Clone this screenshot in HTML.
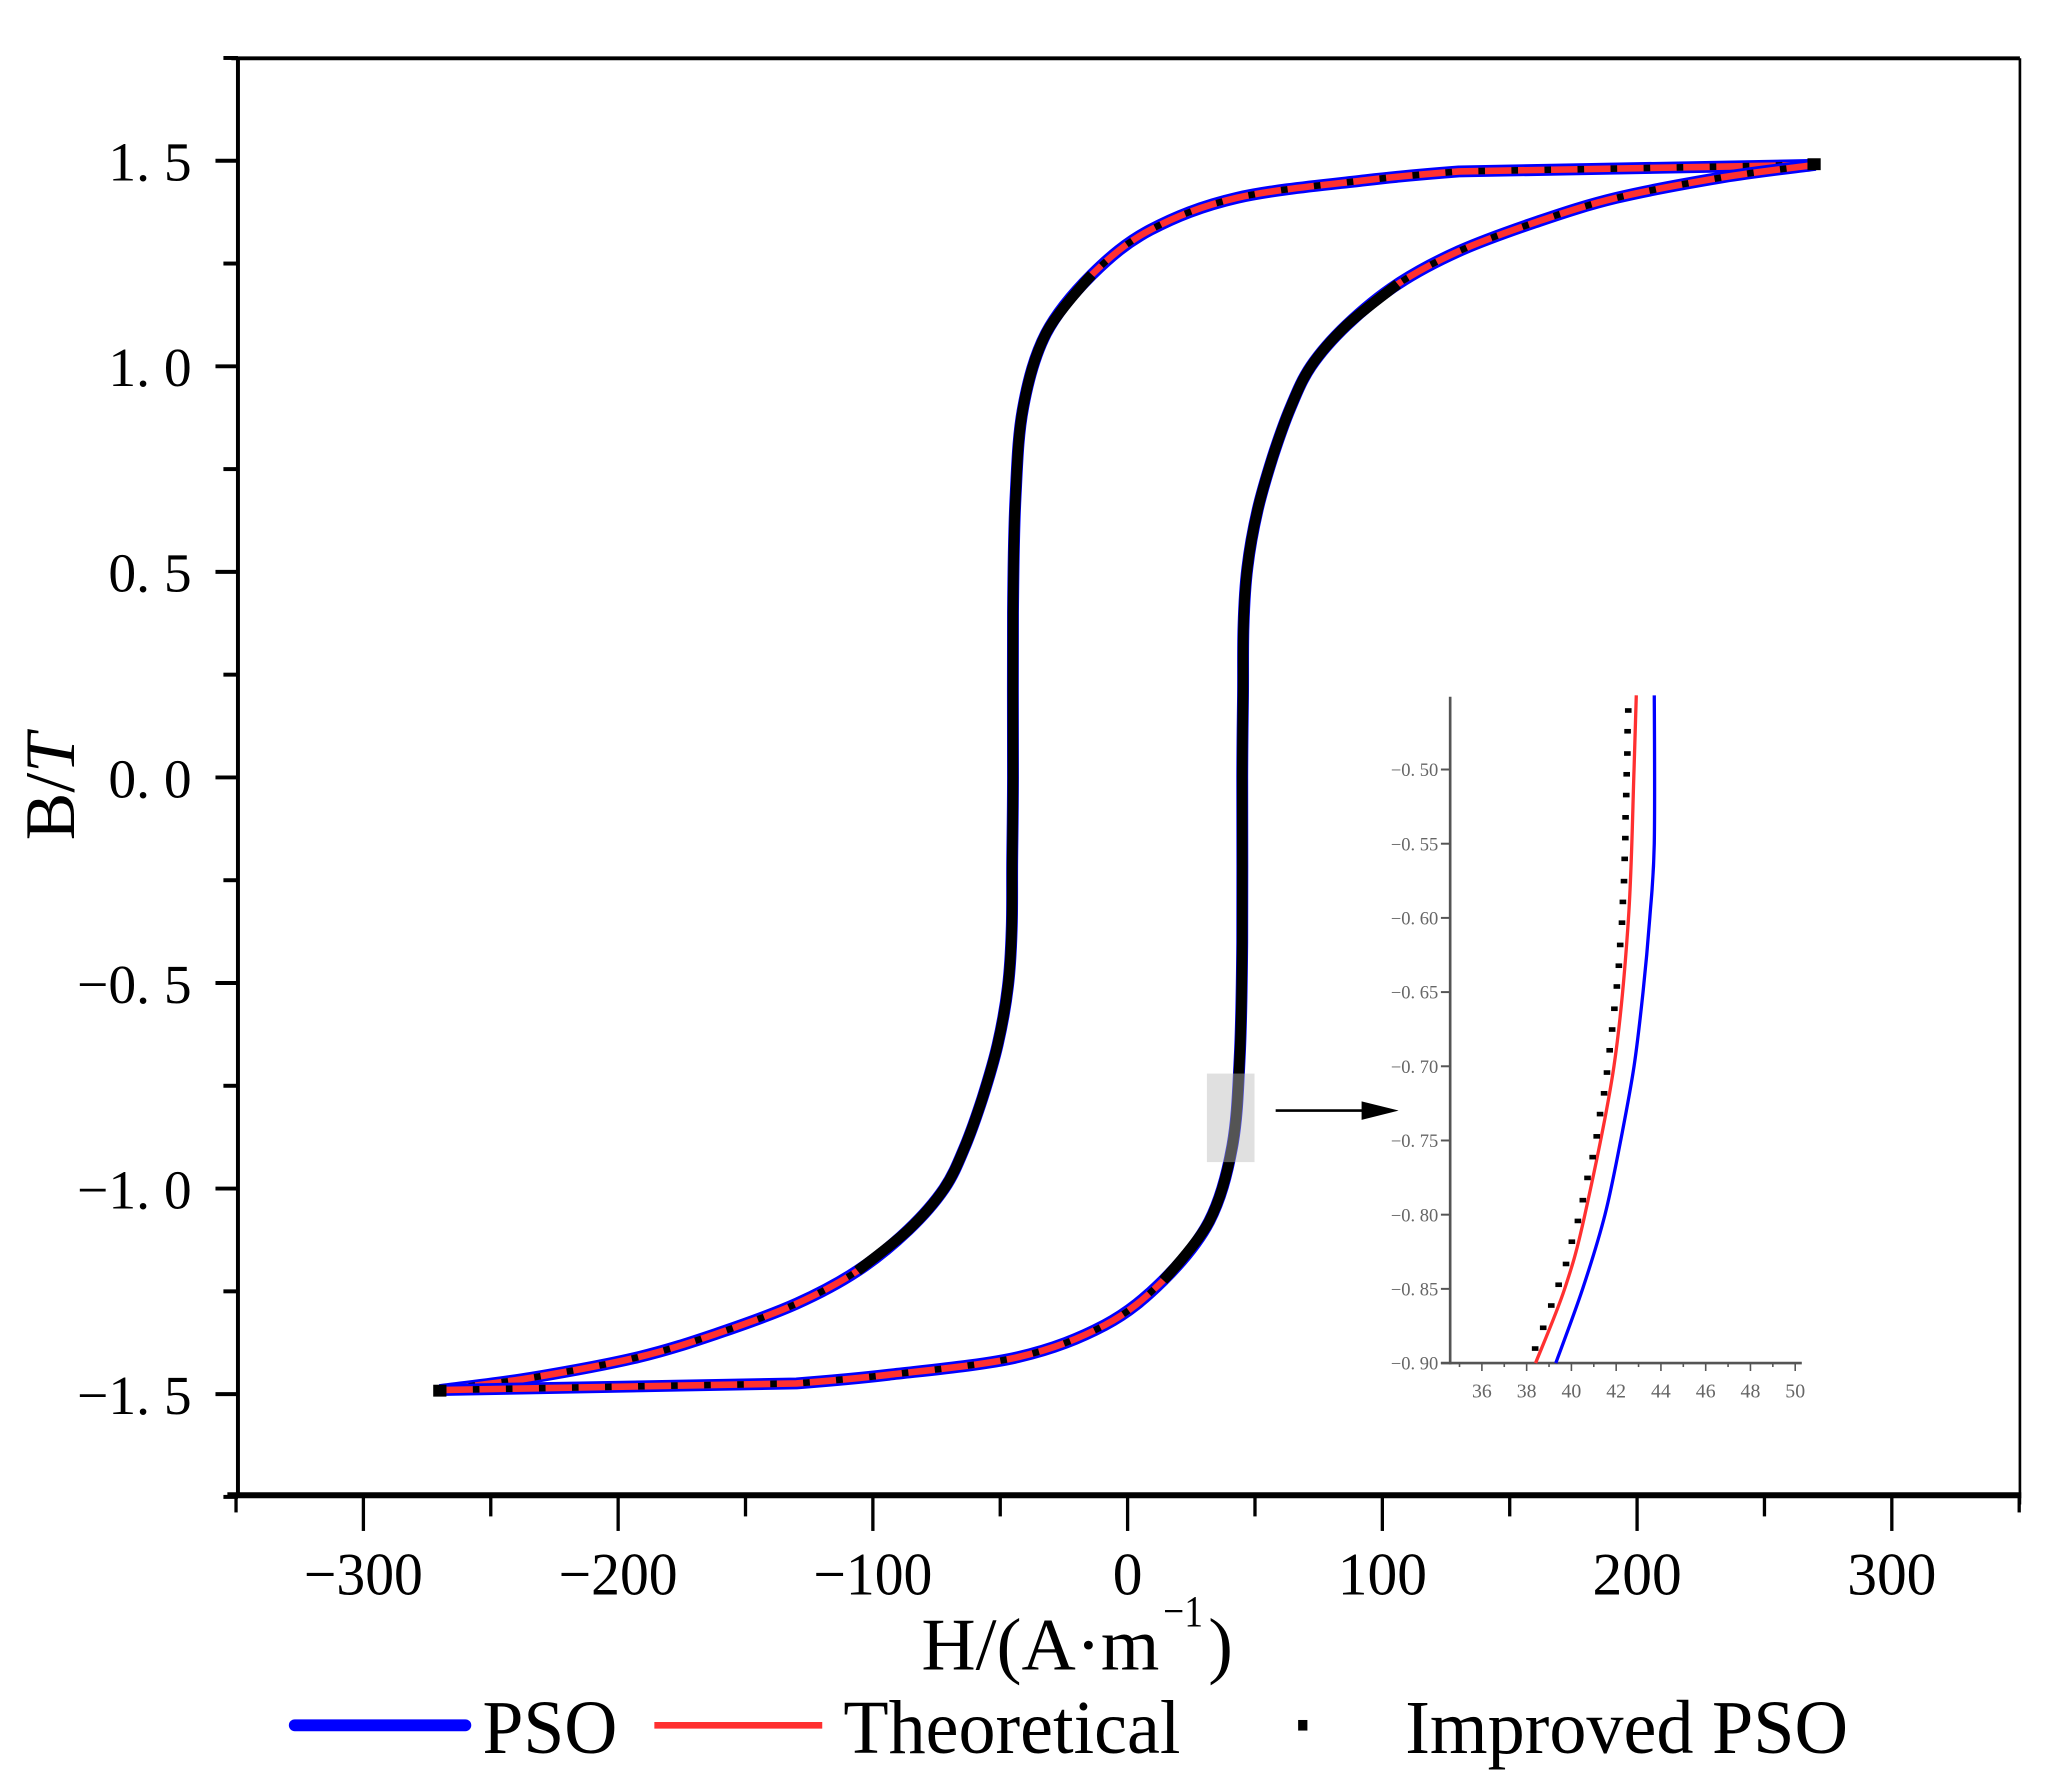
<!DOCTYPE html>
<html><head><meta charset="utf-8"><style>
html,body{margin:0;padding:0;background:#fff;}
svg{display:block;}
text{font-family:"Liberation Serif","Noto Serif CJK SC",serif;}
</style></head><body>
<svg id="chart" width="2049" height="1773" viewBox="0 0 1550 1341" xmlns="http://www.w3.org/2000/svg">
<rect width="1550" height="1341" fill="#fff"/>
<g id="main"></g>
<g id="inset"></g>
<g id="legend">
  <line x1="223" y1="1305" x2="352" y2="1305" stroke="#0000ff" stroke-width="9" stroke-linecap="round"/>
  <text x="365" y="1326" font-size="58" textLength="102" lengthAdjust="spacingAndGlyphs">PSO</text>
  <line x1="495" y1="1305" x2="622" y2="1305" stroke="#ff3030" stroke-width="5"/>
  <text x="638" y="1326" font-size="58" textLength="255" lengthAdjust="spacingAndGlyphs">Theoretical</text>
  <rect x="982" y="1301" width="7" height="8" fill="#000"/>
  <text x="1063" y="1326" font-size="58" textLength="335" lengthAdjust="spacingAndGlyphs">Improved PSO</text>
</g>
</svg>
<script>
// ---- main chart data ----
const descH = [270, 130, 94, 43, 9, -14, -32, -41, -44, -45, -45, -45.3, -45.5, -47, -51, -57, -64, -72, -86, -106, -130, -160, -192, -234, -270];
const descB = [1.49, 1.474, 1.453, 1.41, 1.332, 1.223, 1.08, 0.90, 0.68, 0.40, 0.00, -0.20, -0.37, -0.51, -0.65, -0.78, -0.90, -1.00, -1.10, -1.20, -1.28, -1.35, -1.41, -1.46, -1.49];
const ascH = [-270, -130, -94, -43, -9, 14, 32, 41, 44, 45, 45, 45.3, 45.5, 47, 51, 57, 64, 72, 86, 106, 130, 160, 192, 234, 270];
const ascB = [-1.49, -1.474, -1.453, -1.41, -1.332, -1.223, -1.08, -0.90, -0.68, -0.40, 0.00, 0.20, 0.37, 0.51, 0.65, 0.78, 0.90, 1.00, 1.10, 1.20, 1.28, 1.35, 1.41, 1.46, 1.49];
const xTicks = [-300, -200, -100, 0, 100, 200, 300];
const xTickLabels = ["\u2212300", "\u2212200", "\u2212100", "0", "100", "200", "300"];
const yTicks = [1.5, 1.0, 0.5, 0.0, -0.5, -1.0, -1.5];
const yTickLabels = ["1. 5", "1. 0", "0. 5", "0. 0", "\u22120. 5", "\u22121. 0", "\u22121. 5"];
// ---- inset data ----
const insetRedH = [42.9, 42.8, 42.55, 41.9, 40.6, 39.7, 38.4];
const insetRedB = [-0.45, -0.50, -0.60, -0.70, -0.80, -0.85, -0.90];
const insetBlueH = [43.7, 43.7, 43.5, 43.2, 42.8, 42.2, 41.5, 40.5, 39.3];
const insetBlueB = [-0.45, -0.55, -0.60, -0.65, -0.70, -0.75, -0.80, -0.85, -0.90];
const insetDotH = [42.54,42.51,42.50,42.47,42.45,42.42,42.41,42.38,42.35,42.30,42.26,42.18,42.12,42.03,41.92,41.82,41.71,41.59,41.46,41.28,41.13,40.95,40.72,40.51,40.29,40.02,39.76,39.43,39.10,38.74,38.38];
const insetDotB = [-0.460,-0.474,-0.489,-0.503,-0.517,-0.532,-0.546,-0.560,-0.575,-0.589,-0.603,-0.618,-0.632,-0.646,-0.661,-0.675,-0.689,-0.704,-0.718,-0.732,-0.747,-0.761,-0.775,-0.790,-0.804,-0.818,-0.833,-0.847,-0.861,-0.876,-0.890];
const insetXTicks = [36, 38, 40, 42, 44, 46, 48, 50];
const insetYTicks = [-0.50, -0.55, -0.60, -0.65, -0.70, -0.75, -0.80, -0.85, -0.90];
const insetYLabels = ["\u22120. 50","\u22120. 55","\u22120. 60","\u22120. 65","\u22120. 70","\u22120. 75","\u22120. 80","\u22120. 85","\u22120. 90"];

const NS = "http://www.w3.org/2000/svg";
function mk(parent, tag, attrs, txt) {
  const e = document.createElementNS(NS, tag);
  for (const k in attrs) e.setAttribute(k, attrs[k]);
  if (txt !== undefined) e.textContent = txt;
  parent.appendChild(e);
  return e;
}
const sx = h => 853 + (h) * 1.927;
const sy = b => 588 - b * 311;
const main = document.getElementById('main');

let el;
el = mk(main, 'line', {x1:175, y1:44, x2:1528, y2:44, stroke:'#000', 'stroke-width':3});


el = mk(main, 'line', {x1:1528, y1:44, x2:1528, y2:1138, stroke:'#000', 'stroke-width':2});


el = mk(main, 'line', {x1:180, y1:43, x2:180, y2:1131, stroke:'#000', 'stroke-width':3});


el = mk(main, 'line', {x1:172, y1:1131, x2:1529, y2:1131, stroke:'#000', 'stroke-width':4.5});



for (let v = -350; v <= 350; v += 50) {
  const major = v % 100 === 0;
  el = mk(main, 'line', {x1:sx(v), y1:1131, x2:sx(v), y2: major ? 1158 : (Math.abs(v)===350 ? 1144 : 1147), stroke:'#000', 'stroke-width':2.5});
  
  
}
xTicks.forEach((v, i) => {
  const lbl = xTickLabels[i];
  const w = lbl.length * 22.5;
  el = mk(main, 'text', {x:sx(v), y:1206, 'font-size':46, 'text-anchor':'middle', textLength:w, lengthAdjust:'spacingAndGlyphs'}, lbl);
  
  
});
for (let v = -1.75; v <= 1.751; v += 0.25) {
  const major = Math.abs((v * 2) - Math.round(v * 2)) < 1e-6;
  el = mk(main, 'line', {x1: major ? 163 : 169, y1:sy(v), x2:180, y2:sy(v), stroke:'#000', 'stroke-width':3});
  
  
}
yTicks.forEach((v, i) => {
  el = mk(main, 'text', {x:145, y:sy(v)+15, 'font-size':42, 'text-anchor':'end'}, yTickLabels[i]);
  
  
});
el = mk(main, 'text', {x:697, y:1263, 'font-size':56, textLength:180, lengthAdjust:'spacingAndGlyphs'}, 'H/(A\u00b7m');


el = mk(main, 'text', {x:880, y:1230, 'font-size':34, textLength:30, lengthAdjust:'spacingAndGlyphs'}, '\u22121');


el = mk(main, 'text', {x:914, y:1263, 'font-size':56}, ')');


const yt = mk(main, 'text', {x:0, y:0, 'font-size':54, transform:'translate(56,595) rotate(-90)', 'text-anchor':'middle'});


mk(yt, 'tspan', {}, 'B/');
mk(yt, 'tspan', {'font-style':'italic'}, 'T');

function smoothFrom(H, B, fx, fy) {
  const p = H.map((h, i) => [fx(h), fy(B[i])]);
  let d = 'M' + p[0][0].toFixed(1) + ',' + p[0][1].toFixed(1) + ' L' + p[1][0].toFixed(1) + ',' + p[1][1].toFixed(1);
  for (let i = 1; i < p.length - 1; i++) {
    const p0 = p[i - 1], p1 = p[i], p2 = p[i + 1], p3 = p[i + 2] || p2;
    const t = (i === 1) ? 0 : 1/6;
    const c1 = [p1[0] + (p2[0] - p0[0]) * t, p1[1] + (p2[1] - p0[1]) * t];
    const c2 = [p2[0] - (p3[0] - p1[0]) / 6, p2[1] - (p3[1] - p1[1]) / 6];
    d += ` C${c1[0].toFixed(1)},${c1[1].toFixed(1)} ${c2[0].toFixed(1)},${c2[1].toFixed(1)} ${p2[0].toFixed(1)},${p2[1].toFixed(1)}`;
  }
  return d;
}
const branches = [[descH, descB, 'descending'], [ascH, ascB, 'ascending']];
branches.forEach(([H, B, nm]) => {
  const d = smoothFrom(H, B, sx, sy);
  el = mk(main, 'path', {d, fill:'none', stroke:'#0000ff', 'stroke-width':9, 'stroke-linejoin':'round'});
  
  
  el = mk(main, 'path', {d, fill:'none', stroke:'#ff3030', 'stroke-width':5});
  
  
  el = mk(main, 'path', {d, fill:'none', stroke:'#000', 'stroke-width':5, 'stroke-dasharray':'5 20'});
  
  
  const iH = [], iB = [];
  H.forEach((h, i) => { if (Math.abs(B[i]) <= 1.26) { iH.push(h); iB.push(B[i]); } });
  el = mk(main, 'path', {d: smoothFrom([iH[0]].concat(iH), [iB[0]].concat(iB), sx, sy), fill:'none', stroke:'#000', 'stroke-width':8});
  
  
});
el = mk(main, 'rect', {x:sx(270)-6, y:sy(1.49)-5, width:10, height:9, fill:'#000'});


el = mk(main, 'rect', {x:sx(-270)-5, y:sy(-1.49)-4, width:10, height:9, fill:'#000'});



el = mk(main, 'rect', {x:913, y:812, width:36, height:67, fill:'#bbb', 'fill-opacity':0.45});


el = mk(main, 'line', {x1:965, y1:840, x2:1035, y2:840, stroke:'#000', 'stroke-width':2});


el = mk(main, 'polygon', {points:'1030,833 1058,840 1030,847', fill:'#000'});



// ---- inset ----
const inset = document.getElementById('inset');


const ix = h => 1121 + (h - 36) * 16.93;
const iy = b => 582 - (b + 0.5) * 1122.5;
el = mk(inset, 'line', {x1:1097, y1:527, x2:1097, y2:1032, stroke:'#555', 'stroke-width':2});


el = mk(inset, 'line', {x1:1090, y1:1031, x2:1363, y2:1031, stroke:'#555', 'stroke-width':2});


for (let v = 35; v <= 50; v++) {
  el = mk(inset, 'line', {x1:ix(v), y1:1031, x2:ix(v), y2: v % 2 === 0 ? 1037 : 1034, stroke:'#555', 'stroke-width':1.2});
  
  
}
insetXTicks.forEach(v => {
  el = mk(inset, 'text', {x:ix(v), y:1057, 'font-size':15, fill:'#666', 'text-anchor':'middle'}, String(v));
  
  
});
insetYTicks.forEach((v, i) => {
  el = mk(inset, 'line', {x1:1090, y1:iy(v), x2:1097, y2:iy(v), stroke:'#555', 'stroke-width':1.5});
  
  
  el = mk(inset, 'text', {x:1088, y:iy(v)+5, 'font-size':14, fill:'#666', 'text-anchor':'end'}, insetYLabels[i]);
  
  
});
el = mk(inset, 'path', {d:smoothFrom([insetBlueH[0]].concat(insetBlueH), [insetBlueB[0]].concat(insetBlueB), ix, iy), fill:'none', stroke:'#0000ff', 'stroke-width':2.5});


el = mk(inset, 'path', {d:smoothFrom([insetRedH[0]].concat(insetRedH), [insetRedB[0]].concat(insetRedB), ix, iy), fill:'none', stroke:'#ff3030', 'stroke-width':2.5});


insetDotH.forEach((h, i) => {
  el = mk(inset, 'rect', {x:ix(h)-2.5, y:iy(insetDotB[i])-1.5, width:5, height:3.5, fill:'#000'});
  
  
});
</script>
</body></html>
